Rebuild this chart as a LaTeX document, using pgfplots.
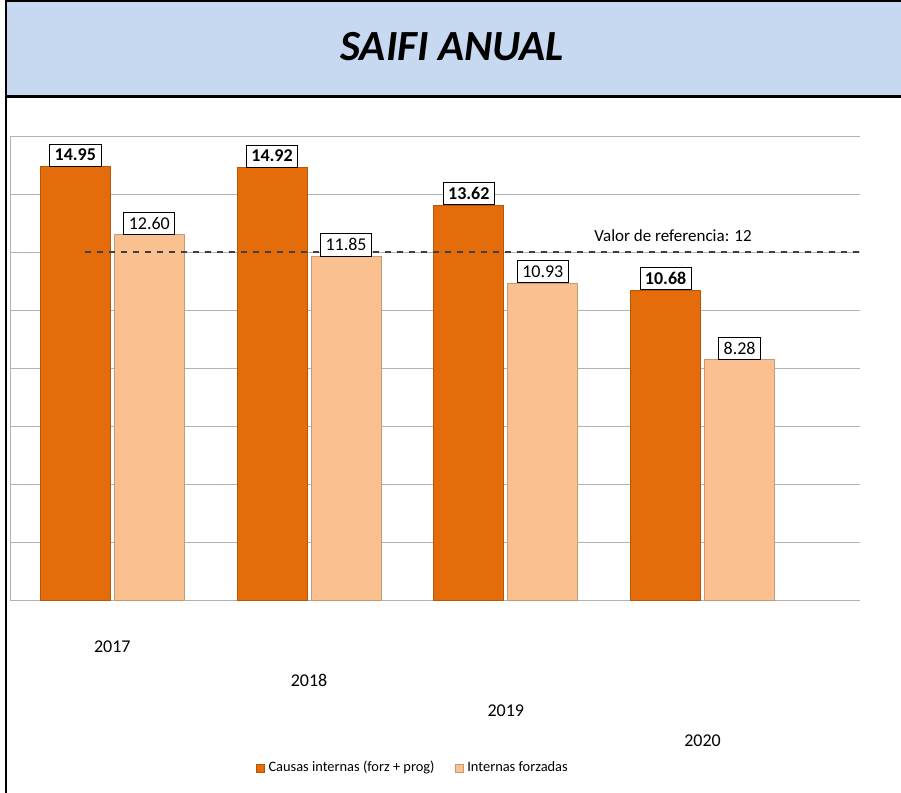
\documentclass[border=0pt]{standalone}
\usepackage{pgfplots}
\pgfplotsset{compat=1.18}
\usepackage{fontspec}
\setmainfont{Carlito}
\definecolor{darkor}{HTML}{E46C0A}
\definecolor{lightor}{HTML}{FAC090}
\definecolor{titlebg}{HTML}{C6D9F0}
\begin{document}
\begin{tikzpicture}[x=1pt,y=1pt]
\begin{axis}[
  scale only axis, width=425pt, height=232pt,
  ybar=2pt, bar width=35pt,
  xmin=-0.52, xmax=3.8, ymin=0, ymax=16,
  xtick=data, xticklabels={{2017},{\raisebox{-22.5pt}{2018}},{\raisebox{-37.5pt}{2019}},{\raisebox{-52.5pt}{2020}}},
  ytick={0,2,...,16}, yticklabels={},
  major tick length=0pt,
  ymajorgrids, grid style={gray!60},
  axis x line*=bottom, axis y line*=left,
  axis line style={gray!60},
  xticklabel style={font=\fontsize{9}{10}\selectfont, yshift=-17pt},
  /pgf/number format/fixed, /pgf/number format/fixed zerofill, /pgf/number format/precision=2,
  /pgf/number format/assume math mode=true,
  legend style={at={(0.475,-0.362)}, anchor=center, draw=none, fill=none, legend columns=2, font=\fontsize{7.2}{8}\selectfont, /tikz/every even column/.append style={column sep=8pt}},
  legend image code/.code={\fill[#1] (0pt,-2pt) rectangle (4pt,2pt);},
]
\addplot[fill=darkor, draw=darkor!80!black, nodes near coords, every node near coord/.append style={draw=black, fill=white, inner sep=2.5pt, font=\fontsize{9}{10}\selectfont\bfseries}] coordinates {(0,14.95) (1,14.92) (2,13.62) (3,10.68)};
\addplot[fill=lightor, draw=lightor!80!black, nodes near coords, every node near coord/.append style={draw=black, fill=white, inner sep=2.5pt, font=\fontsize{9}{10}\selectfont}] coordinates {(0,12.60) (1,11.85) (2,10.93) (3,8.28)};
\legend{Causas internas (forz + prog), Internas forzadas}
\addplot[sharp plot, dashed, thick, black!75, forget plot] coordinates {(-0.14,12) (3.8,12)};
\node[font=\fontsize{8.5}{10}\selectfont, anchor=south] at (axis cs:2.85,12.1) {Valor de referencia: 12};
\coordinate (O) at (rel axis cs:0,0);
\end{axis}
\begin{scope}[shift={(O)}]
\fill[titlebg] (-2,252.5) rectangle (445.5,299.5);
\node[font=\fontsize{21.5}{24}\selectfont\bfseries\itshape] at (221,276.5) {SAIFI ANUAL};
\draw[line width=1.6pt] (-2,251.7) -- (445.5,251.7);
\draw[line width=1pt] (445.5,299.5) -- (-2,299.5) -- (-2,-96.5);
\pgfresetboundingbox
\path[use as bounding box] (-5,-96.5) rectangle (445.5,300);
\end{scope}
\end{tikzpicture}
\end{document}
